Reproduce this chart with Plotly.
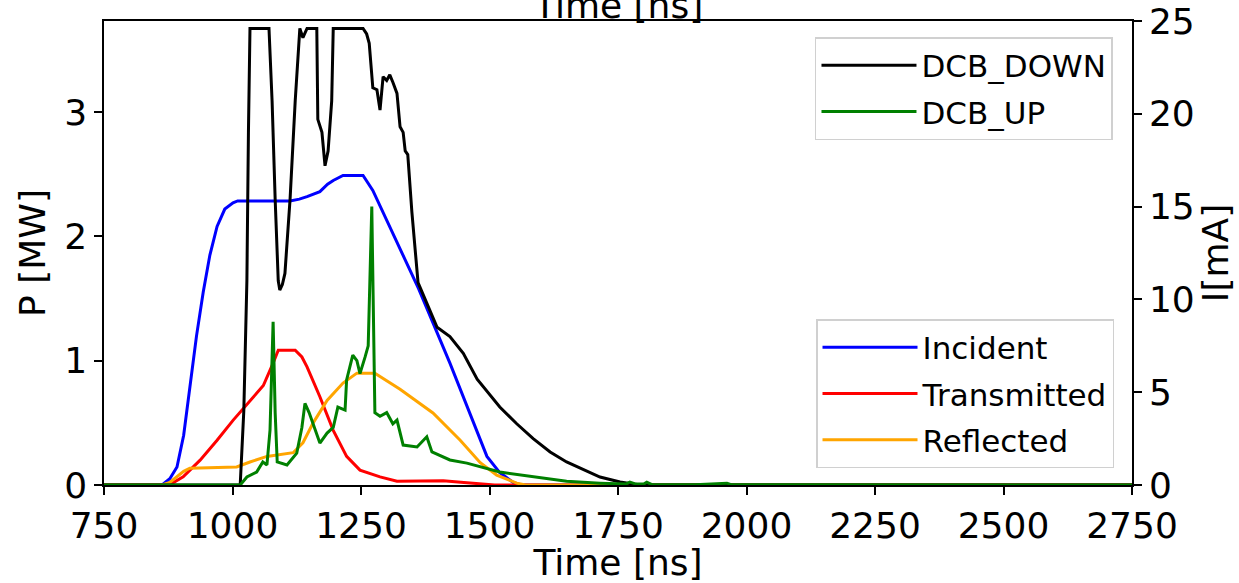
import plotly.graph_objects as go

# Forward power signals (MW)
incident_t = [750, 863, 878, 892, 905, 917, 930, 943, 956, 970, 985, 1001, 1010, 1112, 1130,
              1145, 1157, 1170, 1185, 1196, 1215, 1254, 1273, 1306, 1362, 1423, 1462, 1495,
              1520, 1546, 1562, 2750]
incident_p = [0, 0, 0.05, 0.145, 0.4, 0.8, 1.2, 1.55, 1.85, 2.08, 2.22, 2.27, 2.285, 2.285, 2.30,
              2.32, 2.34, 2.36, 2.42, 2.45, 2.49, 2.49, 2.37, 2.08, 1.58, 0.98, 0.58, 0.23,
              0.1, 0.02, 0, 0]

transmitted_t = [750, 865, 885, 904, 937, 970, 1001, 1034, 1060, 1079, 1089, 1122, 1135, 1145,
                 1170, 1196, 1222, 1248, 1287, 1320, 1410, 1450, 1487, 1510, 2750]
transmitted_p = [0, 0, 0.02, 0.065, 0.2, 0.36, 0.52, 0.68, 0.8, 0.98, 1.085, 1.085, 1.03, 0.95,
                 0.71, 0.44, 0.23, 0.12, 0.065, 0.03, 0.035, 0.02, 0.01, 0, 0]

reflected_t = [750, 863, 878, 892, 905, 917, 1008, 1034, 1067, 1118, 1137, 1157, 1184, 1215,
               1242, 1277, 1326, 1390, 1443, 1482, 1514, 1553, 1570, 2750]
reflected_p = [0, 0, 0.02, 0.065, 0.11, 0.135, 0.145, 0.185, 0.23, 0.26, 0.34, 0.5, 0.68, 0.82,
               0.9, 0.9, 0.77, 0.58, 0.36, 0.18, 0.08, 0.015, 0, 0]

# Dark-current beam monitors (mA)
dcb_down_t = [750, 1015, 1022, 1028, 1031, 1034, 1071, 1077, 1083, 1089, 1092, 1097, 1102, 1112,
              1122, 1131, 1137, 1145, 1164, 1166, 1174, 1180, 1186, 1193, 1196, 1254, 1261, 1266,
              1273, 1281, 1287, 1293, 1300, 1306, 1312, 1320, 1326, 1332, 1336, 1341, 1349, 1361,
              1378, 1398, 1423, 1449, 1476, 1520, 1553, 1585, 1618, 1650, 1715, 1754, 1779, 1795,
              2750]
dcb_down_i = [0, 0, 4, 11.0, 19, 24.6, 24.6, 20.7, 15.4, 11.0, 10.5, 10.8, 11.4, 15.4,
              20.7, 24.6, 24.1, 24.6, 24.6, 19.7, 19.0, 17.2, 18.0, 20.7, 24.6, 24.6, 24.3, 23.8,
              21.4, 21.3, 20.2, 22.0, 21.8, 22.1, 21.7, 21.1, 19.3, 19.0, 18.0, 17.8, 14.7, 10.9,
              9.8, 8.5, 8.0, 7.1, 5.7, 4.2, 3.3, 2.5, 1.78, 1.24, 0.43, 0.16, 0.05, 0,
              0]

dcb_up_t = [750, 1015, 1028, 1047, 1059, 1067, 1073, 1079, 1083, 1087, 1106, 1125, 1135, 1141,
            1149, 1157, 1170, 1184, 1196, 1205, 1219, 1222, 1234, 1242, 1248, 1258, 1264, 1271,
            1277, 1287, 1300, 1312, 1320, 1332, 1359, 1378, 1388, 1423, 1456, 1520, 1585, 1650,
            1715, 1765, 1773, 1785, 1800, 1806, 1815, 1900, 1962, 1970, 2750]
dcb_up_i = [0, 0, 0.43, 0.7, 1.24, 1.08, 2.96, 8.8, 3.9, 1.24, 1.08, 1.72, 3.1, 4.4,
            3.9, 3.3, 2.26, 2.8, 3.1, 4.2, 4.04, 5.66, 7.0, 6.7, 6.0, 6.9, 7.5, 15.0,
            3.9, 3.7, 3.9, 3.3, 3.5, 2.15, 2.05, 2.6, 1.78, 1.35, 1.18, 0.7, 0.43, 0.2,
            0.1, 0.05, 0.16, 0.05, 0.05, 0.15, 0.03, 0.02, 0.1, 0.02, 0]

x_ticks = [750, 1000, 1250, 1500, 1750, 2000, 2250, 2500, 2750]
p_ticks = [0, 1, 2, 3]
i_ticks = [0, 5, 10, 15, 20, 25]

FONT = "DejaVu Sans"
LW = 3
TICK_SIZE = 36
LEGEND_SIZE = 31

fig = go.Figure()

power_series = [
    ("Incident", incident_t, incident_p, "#0000ff"),
    ("Transmitted", transmitted_t, transmitted_p, "#ff0000"),
    ("Reflected", reflected_t, reflected_p, "#ffa500"),
]
for name, t, p, c in power_series:
    fig.add_trace(go.Scatter(x=t, y=p, mode="lines", name=name, legend="legend2",
                             legendgroup=name, line=dict(color=c, width=LW), yaxis="y"))

current_series = [
    ("DCB_DOWN", dcb_down_t, dcb_down_i, "#000000"),
    ("DCB_UP", dcb_up_t, dcb_up_i, "#008000"),
]
for name, t, i, c in current_series:
    fig.add_trace(go.Scatter(x=t, y=i, mode="lines", name=name, legend="legend",
                             legendgroup=name, line=dict(color=c, width=LW), yaxis="y2"))

axis_common = dict(showgrid=False, zeroline=False, showline=True, linecolor="black",
                   linewidth=1.5, ticks="outside", ticklen=8, tickwidth=1.5,
                   tickcolor="black", tickfont=dict(family=FONT, size=TICK_SIZE, color="black"))

legend_common = dict(bgcolor="rgba(255,255,255,0.8)", bordercolor="#d0d0d0", borderwidth=1.5,
                     font=dict(family=FONT, size=LEGEND_SIZE), tracegroupgap=3, itemwidth=95)

fig.update_layout(
    width=1239, height=583,
    margin=dict(l=104, r=107, t=21, b=98, autoexpand=False),
    plot_bgcolor="white", paper_bgcolor="white",
    font=dict(family=FONT, color="black"),
    xaxis=dict(range=[750, 2750], tickvals=x_ticks, mirror=True,
               title=dict(text="Time [ns]", font=dict(family=FONT, size=TICK_SIZE), standoff=4),
               **axis_common),
    yaxis=dict(range=[0, 3.733], tickvals=p_ticks,
               title=dict(text="P [MW]", font=dict(family=FONT, size=TICK_SIZE), standoff=8),
               **axis_common),
    yaxis2=dict(range=[0, 25], tickvals=i_ticks, overlaying="y", side="right",
                title=dict(text="I[mA]", font=dict(family=FONT, size=TICK_SIZE), standoff=8),
                **axis_common),
    legend=dict(x=0.9815, y=0.9655, xanchor="right", yanchor="top", **legend_common),
    legend2=dict(x=0.9825, y=0.0366, xanchor="right", yanchor="bottom", **legend_common),
    annotations=[dict(text="Time [ns]", xref="paper", yref="paper", x=0.5, y=1,
                      xanchor="center", yanchor="bottom", yshift=-7, showarrow=False,
                      font=dict(family=FONT, size=TICK_SIZE, color="black"))],
)

fig.write_html("out.html")
